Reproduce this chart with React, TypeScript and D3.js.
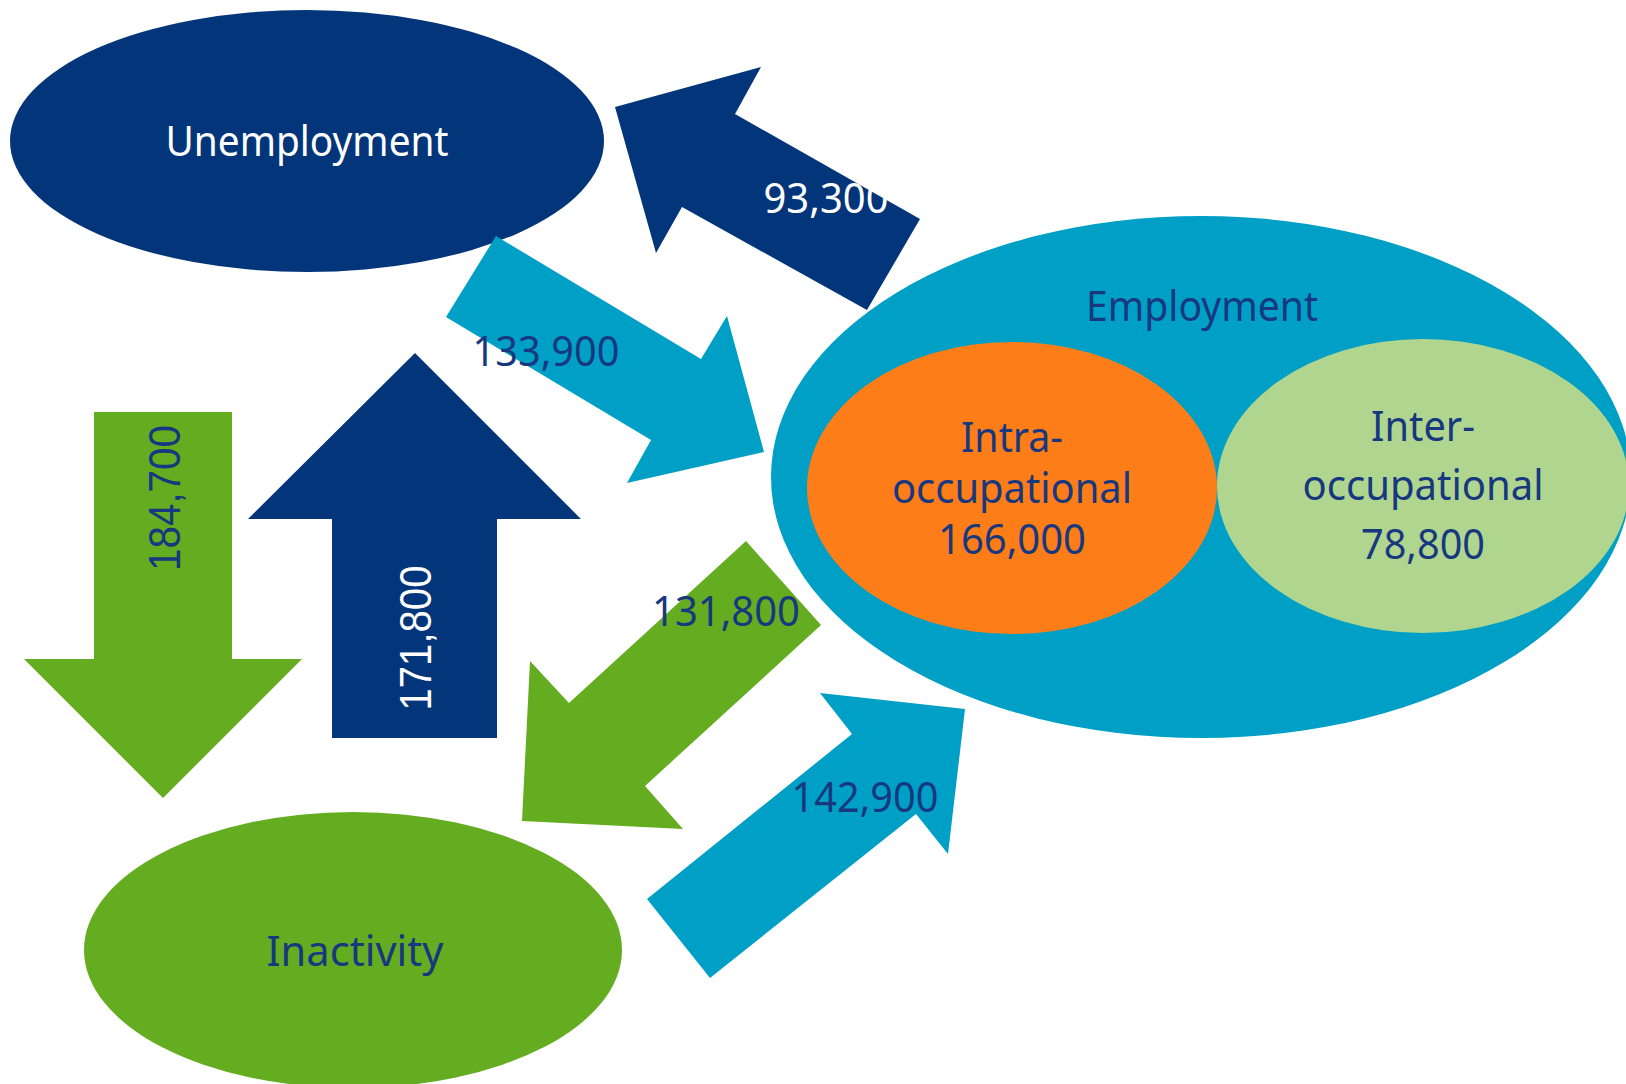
import React from "react";
import * as d3 from "d3";

// labour-market flows (people)
const nodeNames = ["Unemployment", "Employment", "Inactivity"];
const jobMoveNames = [["Intra-", "occupational"], ["Inter-", "occupational"]];
const jobMoveValues = [166000, 78800];
const flowFrom = ["Employment", "Unemployment", "Inactivity", "Unemployment", "Employment", "Inactivity"];
const flowTo = ["Unemployment", "Employment", "Unemployment", "Inactivity", "Inactivity", "Employment"];
const flowValues = [93300, 133900, 184700, 171800, 131800, 142900];

const W = 1626;
const H = 1084;
const fmt = d3.format(",");

const NAVY = "#03357a";
const BLUE = "#00a0c6";
const GREEN = "#64ac20";
const ORANGE = "#fd7d18";
const LIGHT = "#b0d58f";
const INK = "#17387f";

// ellipse geometry for the three states
const nodeShape: Record<string, any> = {
  Unemployment: { cx: 307, cy: 141, rx: 297, ry: 131, fill: NAVY, ink: "#fff", tx: 307, ty: 156, len: 283 },
  Employment: { cx: 1201, cy: 477, rx: 430, ry: 261, fill: BLUE, ink: INK, tx: 1202, ty: 321, len: 232 },
  Inactivity: { cx: 353, cy: 950, rx: 269, ry: 138, fill: GREEN, ink: INK, tx: 355, ty: 966, len: 177 },
};

const subShape = [
  { cx: 1012, cy: 488, rx: 205, ry: 146, fill: ORANGE, x: 1012, lines: [452, 503, 554], lens: [102, 240, 148] },
  { cx: 1423, cy: 486, rx: 206, ry: 147, fill: LIGHT, x: 1423, lines: [441, 500, 559], lens: [104, 241, 124] },
];

// arrow outlines, one per flow (same order as flowValues)
const arrowShape = [
  { fill: NAVY, ink: "#fff", pts: [[615, 107], [761, 67], [735, 114], [920, 219], [867, 310], [682, 207], [656, 253]], tx: 826, ty: 213, len: 125, rot: 0 },
  { fill: BLUE, ink: INK, pts: [[496, 236], [701, 359], [727, 316], [764, 452], [627, 483], [651, 440], [446, 317]], tx: 546, ty: 366, len: 147, rot: 0 },
  { fill: GREEN, ink: INK, pts: [[94, 412], [232, 412], [232, 659], [302, 659], [163, 798], [24, 659], [94, 659]], tx: 180, ty: 498, len: 146, rot: -90 },
  { fill: NAVY, ink: "#fff", pts: [[415, 353], [581, 519], [497, 519], [497, 738], [332, 738], [332, 519], [248, 519]], tx: 431, ty: 638, len: 145, rot: -90 },
  { fill: GREEN, ink: INK, pts: [[746, 541], [821, 625], [645, 786], [683, 829], [522, 821], [530, 661], [569, 703]], tx: 726, ty: 626, len: 148, rot: 0 },
  { fill: BLUE, ink: INK, pts: [[647, 899], [852, 734], [820, 693], [965, 709], [948, 854], [916, 814], [710, 978]], tx: 865, ty: 812, len: 147, rot: 0 },
];

const line = d3.line().curve(d3.curveLinearClosed);
const FONT = "'Noto Sans', 'DejaVu Sans', sans-serif";
const FONT_ROT = "'Liberation Sans', Arial, sans-serif";

export default function App() {
  return (
    <svg width={W} height={H} style={{ position: "absolute", left: 0, top: 0, background: "#fff" }} fontFamily={FONT}>
      {nodeNames.map((n) => {
        const s = nodeShape[n];
        return <ellipse key={n} cx={s.cx} cy={s.cy} rx={s.rx} ry={s.ry} fill={s.fill} />;
      })}
      {subShape.map((s, i) => (
        <ellipse key={"sub" + i} cx={s.cx} cy={s.cy} rx={s.rx} ry={s.ry} fill={s.fill} />
      ))}
      {flowValues.map((v, i) => (
        <path key={"arrow" + i} d={line(arrowShape[i].pts as [number, number][]) || ""} fill={arrowShape[i].fill}>
          <title>{`${flowFrom[i]} → ${flowTo[i]}: ${fmt(v)}`}</title>
        </path>
      ))}
      {nodeNames.map((n) => {
        const s = nodeShape[n];
        return (
          <text key={"t" + n} x={s.tx} y={s.ty} fill={s.ink} fontSize={41} textAnchor="middle"
            textLength={s.len} lengthAdjust="spacingAndGlyphs">
            {n}
          </text>
        );
      })}
      {jobMoveValues.map((v, i) => {
        const s = subShape[i];
        const rows = [...jobMoveNames[i], fmt(v)];
        return rows.map((r, j) => (
          <text key={`s${i}-${j}`} x={s.x} y={s.lines[j]} fill={INK} fontSize={41} textAnchor="middle"
            textLength={s.lens[j]} lengthAdjust="spacingAndGlyphs">
            {r}
          </text>
        ));
      })}
      {flowValues.map((v, i) => {
        const a = arrowShape[i];
        const vertical = a.rot !== 0;
        return (
          <text key={"v" + i} transform={`translate(${a.tx},${a.ty}) rotate(${a.rot})`} fill={a.ink}
            fontFamily={vertical ? FONT_ROT : FONT} fontSize={vertical ? 44 : 41} textAnchor="middle"
            textLength={a.len} lengthAdjust="spacingAndGlyphs">
            {fmt(v)}
          </text>
        );
      })}
    </svg>
  );
}
